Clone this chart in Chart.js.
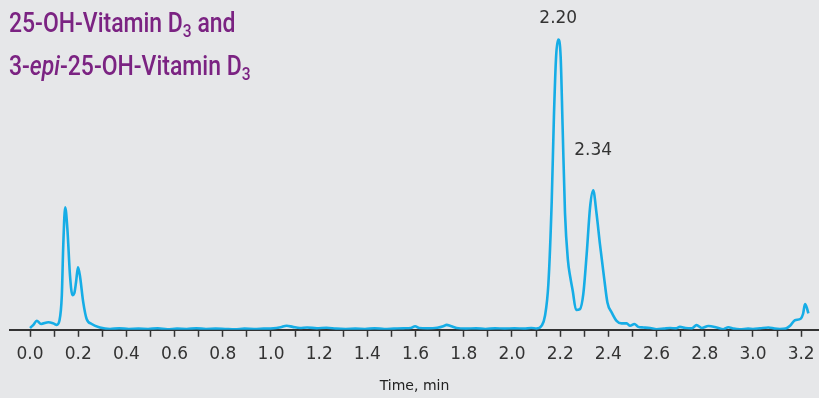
<!DOCTYPE html>
<html lang="en">
<head>
    <meta charset="UTF-8">
    <title>25-OH-Vitamin D3 chromatogram</title>
    <style>
        html, body {
            margin: 0;
            padding: 0;
            background-color: #e6e7e9;
        }
        .wrap {
            position: relative;
            width: 819px;
            height: 398px;
        }
        .title {
            position: absolute;
            left: 9px;
            top: 1px;
            font-family: Roboto, "Liberation Sans", sans-serif;
            font-weight: 500;
            font-size: 28px;
            line-height: 43px;
            color: #7b2382;
            white-space: nowrap;
            transform: scaleX(0.82);
            transform-origin: left top;
        }
        .title sub {
            font-size: 19px;
            vertical-align: -5px;
            line-height: 0;
        }
    </style>
    <script src="https://cdn.jsdelivr.net/npm/chart.js"></script>
</head>
<body>

<div class="wrap">
    <canvas id="chrom" width="819" height="398"></canvas>
    <div class="title">25-OH-Vitamin D<sub>3</sub> and<br>3-<i>epi</i>-25-OH-Vitamin D<sub>3</sub></div>
</div>

<script>
// retention time (min) and detector response
const times = [
    0.00, 0.015, 0.028, 0.046, 0.076, 0.097, 0.111, 0.122, 0.132, 0.138,
    0.146, 0.155, 0.166, 0.176, 0.184, 0.191, 0.199, 0.207, 0.221, 0.235,
    0.256, 0.290, 0.332,
    0.37, 0.41, 0.45, 0.49, 0.53, 0.57, 0.61, 0.65, 0.69, 0.73,
    0.77, 0.81, 0.85, 0.89, 0.93, 0.97, 1.01, 1.04, 1.065, 1.09,
    1.12, 1.15, 1.19, 1.23, 1.27, 1.31, 1.35, 1.39, 1.43, 1.47,
    1.51, 1.55, 1.58, 1.598, 1.615, 1.65, 1.69, 1.715, 1.729, 1.745,
    1.77, 1.81, 1.85, 1.89, 1.93, 1.97, 2.01, 2.05, 2.08, 2.102,
    2.123, 2.137, 2.151, 2.165, 2.174, 2.183, 2.192, 2.202, 2.210, 2.220,
    2.232, 2.242, 2.252, 2.266, 2.282, 2.296, 2.310, 2.324, 2.337, 2.351,
    2.365, 2.382, 2.396, 2.414, 2.434,
    2.455, 2.476, 2.490, 2.508, 2.524, 2.545, 2.573, 2.60, 2.63, 2.656,
    2.68, 2.697, 2.72, 2.746, 2.766, 2.787, 2.815, 2.849, 2.877, 2.898,
    2.92, 2.946, 2.98, 3.00, 3.029, 3.064, 3.09, 3.112, 3.135, 3.154,
    3.174, 3.198, 3.208, 3.216, 3.223, 3.230
];
const response = [
    0.6, 1.8, 3.1, 2.0, 2.6, 2.2, 1.7, 3.1, 11.7, 28.9,
    42.0, 34.7, 18.6, 11.9, 12.6, 16.3, 21.4, 18.6, 9.4, 3.7,
    2.0, 0.8, 0.3,
    0.5, 0.3, 0.4, 0.3, 0.5, 0.2, 0.4, 0.3, 0.5, 0.3,
    0.4, 0.3, 0.2, 0.4, 0.3, 0.4, 0.5, 0.9, 1.4, 1.0,
    0.6, 0.8, 0.5, 0.7, 0.4, 0.3, 0.4, 0.3, 0.5, 0.3,
    0.4, 0.5, 0.6, 1.2, 0.6, 0.5, 0.7, 1.2, 1.7, 1.3,
    0.6, 0.4, 0.5, 0.3, 0.5, 0.4, 0.5, 0.4, 0.6, 0.4,
    1.4, 4.8, 15.7, 44.3, 73.0, 93.6, 99.5, 93.6, 70.0, 40.0,
    24.0, 18.0, 13.4, 6.8, 7.1, 12.3, 26.0, 42.0, 47.8, 39.8,
    29.4, 18.0, 9.4, 5.9, 3.1,
    2.2, 2.2, 1.4, 2.0, 1.0, 0.8, 0.6, 0.2, 0.4, 0.6,
    0.5, 1.0, 0.6, 0.5, 1.6, 0.6, 1.3, 0.8, 0.2, 0.9,
    0.4, 0.2, 0.4, 0.3, 0.5, 0.8, 0.4, 0.3, 0.4, 1.4,
    3.3, 3.8, 5.5, 8.8, 7.7, 5.6
];

// x axis ticks (every 0.1 min, label every 0.2)
const tickValues = [0.0, 0.1, 0.2, 0.3, 0.4, 0.5, 0.6, 0.7, 0.8, 0.9, 1.0, 1.1, 1.2, 1.3, 1.4, 1.5, 1.6,
    1.7, 1.8, 1.9, 2.0, 2.1, 2.2, 2.3, 2.4, 2.5, 2.6, 2.7, 2.8, 2.9, 3.0, 3.1, 3.2];

// peak annotations
const peakLabels = ['2.20', '2.34'];
const peakTimes = [2.192, 2.337];
const peakHeights = [99.5, 47.8];

const points = times.map((t, i) => ({ x: t, y: response[i] }));

// draws the retention-time labels above the peaks
const peakLabelPlugin = {
    id: 'peakLabels',
    afterDatasetsDraw(chart, args, opts) {
        const ctx = chart.ctx;
        const xs = chart.scales.x;
        const ys = chart.scales.y;
        ctx.save();
        ctx.font = '17px "DejaVu Sans", sans-serif';
        ctx.fillStyle = '#333';
        ctx.textAlign = 'center';
        ctx.textBaseline = 'middle';
        peakLabels.forEach((lab, i) => {
            const px = xs.getPixelForValue(peakTimes[i]);
            const py = ys.getPixelForValue(peakHeights[i]) - opts.offsets[i];
            ctx.fillText(lab, px, py);
        });
        ctx.restore();
    }
};

new Chart(document.getElementById('chrom'), {
    type: 'line',
    data: {
        datasets: [{
            data: points,
            borderColor: '#16ade6',
            borderWidth: 2.6,
            pointRadius: 0,
            cubicInterpolationMode: 'monotone',
            fill: false
        }]
    },
    options: {
        responsive: false,
        animation: false,
        layout: { padding: { left: 10, right: 0, top: 9, bottom: 1 } },
        plugins: {
            legend: { display: false },
            tooltip: { enabled: false },
            peakLabels: { offsets: [21, 40] }
        },
        scales: {
            x: {
                type: 'linear',
                min: -0.083,
                max: 3.274,
                afterBuildTicks: (scale) => {
                    scale.ticks = tickValues.map(v => ({ value: v }));
                },
                afterFit: (scale) => {
                    // axis runs to the right edge of the picture
                    scale.paddingRight = 0;
                    scale.paddingLeft = 0;
                },
                border: { color: '#333', width: 2 },
                grid: {
                    drawOnChartArea: false,
                    drawTicks: true,
                    tickLength: 7,
                    tickColor: '#333',
                    tickWidth: 1.5
                },
                ticks: {
                    autoSkip: false,
                    maxRotation: 0,
                    padding: 8,
                    color: '#333',
                    font: { family: '"DejaVu Sans", sans-serif', size: 17 },
                    callback: (v) => {
                        const k = Math.round(v * 10);
                        return k % 2 === 0 ? (k / 10).toFixed(1) : '';
                    }
                },
                title: {
                    display: true,
                    text: 'Time, min',
                    color: '#222',
                    font: { family: '"DejaVu Sans", sans-serif', size: 14 },
                    padding: { top: 5, bottom: 2 }
                }
            },
            y: {
                display: false,
                min: 0,
                max: 110
            }
        }
    },
    plugins: [peakLabelPlugin]
});
</script>

</body>
</html>
